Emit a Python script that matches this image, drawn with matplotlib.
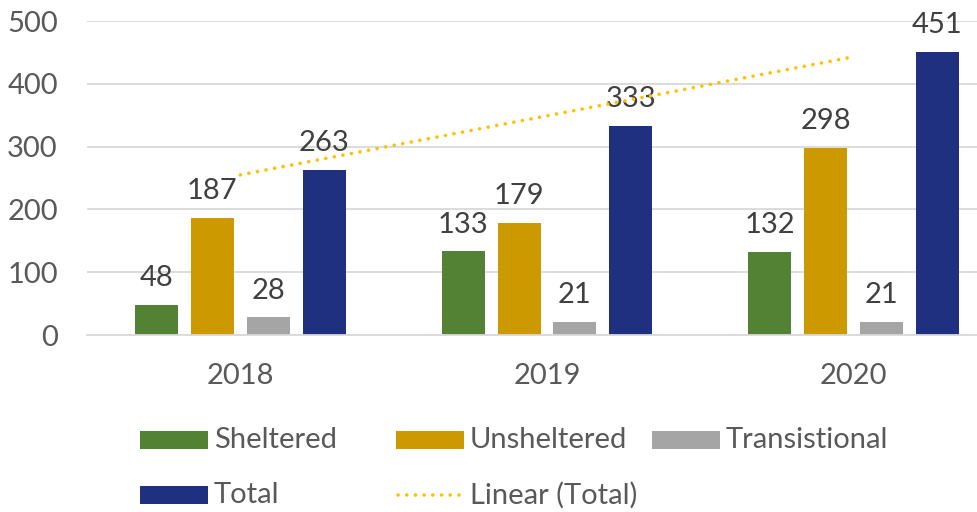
import matplotlib.pyplot as plt
import matplotlib
import numpy as np
from matplotlib.patches import Rectangle
from matplotlib.lines import Line2D

matplotlib.rcParams['font.family'] = ['Lato', 'DejaVu Sans']

years = ['2018', '2019', '2020']
sheltered = [48, 133, 132]
unsheltered = [187, 179, 298]
transitional = [28, 21, 21]
total = [263, 333, 451]

series_names = ['Sheltered', 'Unsheltered', 'Transistional', 'Total']
colors = ['#548235', '#CC9900', '#A5A5A5', '#203080']
trend_color = '#FFC000'
trend_style = (0, (0.01, 2.4))

fig = plt.figure(figsize=(9.77, 5.12), dpi=100)
ax = fig.add_axes([87/977, 1-335/512, (1007-87)/977, (335-21)/512])

x = np.arange(len(years))
width = 0.14
step = 0.182
offsets = [-1.5*step, -0.5*step, 0.5*step, 1.5*step]

for vals, off, col in zip([sheltered, unsheltered, transitional, total], offsets, colors):
    bars = ax.bar(x + off, vals, width, color=col, zorder=2)
    for b, v in zip(bars, vals):
        ax.annotate(str(v), (b.get_x() + b.get_width()/2, v), xytext=(0, 10),
                    textcoords='offset points', ha='center', va='bottom',
                    fontsize=21, color='#404040', zorder=3)

# linear trendline on Total
coef = np.polyfit(x, total, 1)
ax.plot(x, np.polyval(coef, x), color=trend_color, linewidth=2.6,
        linestyle=trend_style, dash_capstyle='round', zorder=4)

ax.set_xlim(-0.5, 2.5)
ax.set_ylim(0, 500)
ax.set_yticks(range(0, 501, 100))
ax.set_xticks(x)
ax.set_xticklabels(years)
ax.yaxis.grid(True, color='#D9D9D9', linewidth=1.3, zorder=0)
ax.set_axisbelow(True)
for s in ['top', 'right', 'left']:
    ax.spines[s].set_visible(False)
ax.spines['bottom'].set_color('#D9D9D9')
ax.spines['bottom'].set_linewidth(1.3)
ax.tick_params(axis='both', length=0, labelsize=21, colors='#595959')
ax.tick_params(axis='y', pad=21)
ax.tick_params(axis='x', pad=20)

# legend, laid out like Excel's equal-width columns
entries = [('Sheltered', colors[0]), ('Unsheltered', colors[1]), ('Transistional', colors[2]),
           ('Total', colors[3]), ('Linear (Total)', None)]
col_x = [140, 396, 652]
row_y = [440, 495]
for i, (label, col) in enumerate(entries):
    px = col_x[i % 3]
    py = row_y[i // 3]
    if col is not None:
        fig.add_artist(Rectangle((px/977, 1-(py+9)/512), 68/977, 18/512,
                                 transform=fig.transFigure, facecolor=col, edgecolor='none'))
    else:
        fig.add_artist(Line2D([(px+2)/977, (px+66)/977], [1-py/512, 1-py/512],
                              transform=fig.transFigure, color=trend_color, linewidth=2.6,
                              linestyle=trend_style, dash_capstyle='round'))
    fig.text((px+74)/977, 1-py/512, label, fontsize=21, color='#595959', va='center', ha='left')

plt.savefig('out.png', dpi=100)
